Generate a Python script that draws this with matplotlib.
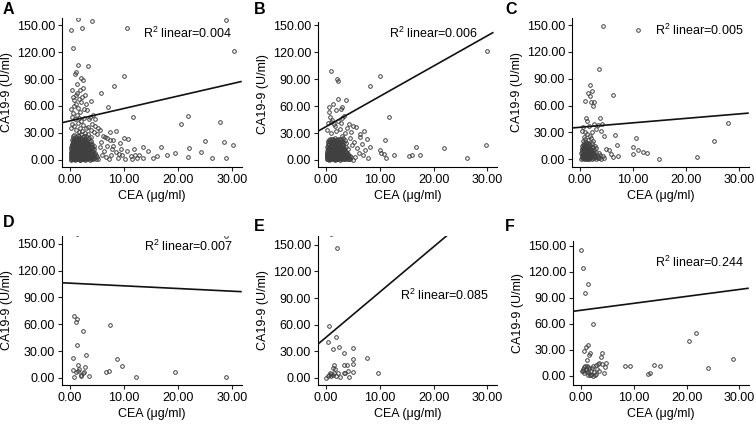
import matplotlib
matplotlib.use('Agg')
import matplotlib.pyplot as plt

plt.rcParams['font.family'] = ['Liberation Sans', 'DejaVu Sans']
plt.rcParams['mathtext.default'] = 'regular'

# ---- data: (CEA, CA19-9) pairs per panel ----
a_points = [
    # high outliers
    (0.1, 145), (1.4, 157), (2.2, 147), (4.0, 154), (0.6, 124), (10.5, 147), (28.8, 156), (30.3, 121.5),
    (1.5, 106), (1.1, 98), (0.9, 96), (3.4, 104), (2.3, 89), (2.0, 91), (8.2, 82), (10.0, 93),
    (5.7, 74), (7.0, 59), (11.7, 47.5), (21.8, 49), (20.5, 40), (27.8, 42),
    # halo around the cluster
    (0.5, 70), (0.8, 67), (1.0, 72), (1.3, 75), (1.6, 68), (1.8, 78), (2.0, 64), (2.2, 70), (0.7, 60),
    (1.1, 62), (1.5, 58), (2.5, 57), (3.0, 62), (3.2, 55), (3.8, 66), (4.2, 50), (0.3, 48), (0.6, 52),
    (0.9, 45), (1.2, 50), (1.7, 47), (2.1, 43), (2.6, 47), (3.5, 45), (4.0, 40), (4.6, 38), (5.1, 36),
    (5.5, 33), (0.4, 40), (0.8, 38), (1.4, 41), (1.9, 36), (2.4, 39), (2.9, 35), (3.3, 37), (3.9, 33),
    (0.2, 35), (1.0, 33), (1.6, 31), (2.2, 32), (2.7, 30), (4.4, 31), (4.9, 29), (6.0, 27), (6.5, 25),
    (7.3, 22), (5.8, 20), (6.8, 16), (7.8, 12), (8.5, 9), (9.1, 7), (7.5, 5), (6.2, 10), (5.5, 14),
    (8.0, 15), (9.5, 12), (10.5, 10), (11.2, 4), (12.0, 6), (12.8, 5), (13.5, 2), (10.2, 1), (11.5, 1),
    (8.8, 2), (9.6, 5), (6.6, 3), (7.2, 1), (5.9, 6), (1.2, 85), (2.4, 80), (0.4, 78), (2.8, 72),
    (3.6, 48), (4.6, 45), (0.2, 57), (1.9, 53),
    # mid-range CEA
    (13.5, 14), (14.5, 10), (15.3, 2), (16.1, 4), (16.8, 14), (17.9, 6), (19.4, 8), (22.0, 13),
    (21.8, 3), (24.2, 9), (24.9, 21), (26.3, 2), (28.5, 20), (30.1, 17), (28.8, 2.5), (11.8, 12),
    (12.4, 2.5), (10.0, 24), (10.8, 23), (7.4, 31.5), (8.5, 32.6), (6.8, 24), (8.0, 22), (9.3, 18.5),
    # dense cluster
    (0.1, 0.5), (0.3, 1.5), (0.5, 0.8), (0.7, 1.9), (0.9, 0.3), (1.1, 1.2), (1.3, 0.6), (1.5, 1.8),
    (1.7, 0.9), (1.9, 0.2), (2.1, 1.4), (2.3, 0.7), (2.5, 1.6), (2.8, 0.4), (3.0, 1.1), (3.3, 1.7),
    (3.6, 0.5), (3.9, 1.3), (4.3, 0.8), (4.7, 1.5), (5.1, 0.6),
    (0.2, 2.8), (0.4, 3.6), (0.6, 2.3), (0.8, 3.2), (1.0, 2.6), (1.2, 3.9), (1.4, 2.2), (1.6, 3.4),
    (1.8, 2.7), (2.0, 3.8), (2.2, 2.4), (2.4, 3.1), (2.7, 2.9), (2.9, 3.7), (3.2, 2.5), (3.5, 3.3),
    (3.8, 2.1), (4.1, 3.5), (4.5, 2.6), (4.9, 3.2),
    (0.1, 5.1), (0.3, 4.4), (0.5, 6.2), (0.7, 4.8), (0.9, 5.7), (1.1, 4.2), (1.3, 6.6), (1.5, 5.0),
    (1.7, 4.5), (1.9, 6.1), (2.1, 5.3), (2.3, 4.6), (2.5, 6.8), (2.8, 5.5), (3.1, 4.3), (3.4, 6.0),
    (3.7, 5.2), (4.0, 4.7), (4.4, 6.3), (4.8, 5.4),
    (0.2, 7.8), (0.4, 9.1), (0.6, 7.3), (0.8, 8.6), (1.0, 9.6), (1.2, 7.5), (1.4, 8.8), (1.6, 7.1),
    (1.8, 9.3), (2.0, 8.0), (2.2, 9.8), (2.4, 7.6), (2.6, 8.9), (2.9, 7.2), (3.2, 9.4), (3.5, 8.2),
    (3.8, 7.4), (4.2, 9.0), (4.6, 8.1),
    (0.3, 10.5), (0.5, 12.2), (0.7, 11.0), (0.9, 12.8), (1.1, 10.3), (1.3, 11.7), (1.5, 12.5),
    (1.7, 10.8), (1.9, 11.9), (2.1, 10.1), (2.3, 12.6), (2.5, 11.3), (2.8, 10.6), (3.1, 12.1),
    (3.4, 11.0), (3.8, 12.9), (4.1, 10.4), (4.5, 11.8),
    (0.2, 14.0), (0.4, 15.8), (0.6, 13.5), (0.8, 16.4), (1.0, 14.7), (1.2, 13.2), (1.4, 15.5),
    (1.6, 16.8), (1.8, 14.2), (2.0, 15.1), (2.2, 13.6), (2.4, 16.2), (2.7, 14.5), (3.0, 15.9),
    (3.3, 13.8), (3.7, 16.6), (4.0, 14.9), (4.4, 15.6),
    (0.3, 18.2), (0.5, 19.7), (0.7, 17.4), (0.9, 20.5), (1.1, 18.9), (1.3, 17.8), (1.5, 20.1),
    (1.7, 18.5), (1.9, 19.4), (2.1, 17.2), (2.3, 20.8), (2.6, 18.6), (2.9, 19.9), (3.2, 17.6),
    (3.6, 20.3), (4.0, 18.1),
    (0.4, 22.3), (0.6, 24.1), (0.8, 21.6), (1.0, 23.5), (1.2, 22.0), (1.4, 24.7), (1.6, 21.3),
    (1.8, 23.2), (2.0, 24.4), (2.2, 22.6), (2.5, 21.8), (2.8, 23.9), (3.1, 22.4), (3.5, 24.6), (3.9, 21.5),
    (0.5, 26.5), (0.8, 28.0), (1.1, 25.7), (1.4, 27.3), (1.7, 26.1), (2.0, 28.4), (2.3, 25.4),
    (2.6, 27.0), (3.0, 26.2), (3.4, 28.6), (3.8, 25.9),
    # more of the cluster core
    (0.15, 1.0), (0.35, 2.2), (0.55, 3.0), (0.75, 0.6), (0.95, 2.0), (1.15, 3.3), (1.35, 1.4),
    (1.55, 2.6), (1.75, 0.4), (1.95, 2.3), (2.15, 3.2), (2.35, 1.1), (2.6, 2.1), (2.85, 3.4),
    (3.1, 1.9), (3.4, 0.9), (3.7, 2.8), (4.0, 1.9), (4.4, 3.9),
    (0.25, 4.0), (0.45, 5.4), (0.65, 6.9), (0.85, 4.5), (1.05, 5.9), (1.25, 7.0), (1.45, 4.0),
    (1.65, 5.7), (1.85, 7.3), (2.05, 4.2), (2.25, 6.0), (2.45, 7.4), (2.7, 4.4), (2.95, 6.3),
    (3.25, 4.9), (3.55, 7.1), (3.9, 5.8), (4.2, 4.1),
    (0.15, 8.5), (0.35, 10.0), (0.55, 8.0), (0.75, 9.8), (0.95, 8.2), (1.15, 10.0), (1.35, 8.4),
    (1.55, 9.9), (1.75, 8.1), (1.95, 10.2), (2.15, 8.7), (2.35, 10.4), (2.65, 8.1), (2.95, 9.9),
    (3.3, 8.5), (3.65, 10.2), (4.0, 8.3),
    (0.2, 12.0), (0.4, 11.2), (0.6, 12.9), (0.8, 11.5), (1.0, 13.0), (1.2, 11.1), (1.4, 12.9),
    (1.6, 11.3), (1.8, 13.1), (2.0, 11.4), (2.2, 12.1), (2.4, 13.2), (2.7, 11.9), (3.0, 13.3),
    (3.3, 12.3), (3.6, 11.5), (4.3, 13.0),
    (0.3, 15.1), (0.5, 14.4), (0.7, 16.0), (0.9, 14.0), (1.1, 16.1), (1.3, 14.3), (1.5, 16.4),
    (1.7, 14.9), (1.9, 16.5), (2.1, 14.4), (2.3, 15.3), (2.6, 16.9), (2.9, 14.6), (3.2, 15.4),
    (3.5, 17.0), (3.9, 14.1),
    (0.4, 17.1), (0.6, 18.9), (0.8, 17.9), (1.0, 19.6), (1.2, 17.0), (1.4, 18.6), (1.6, 20.0),
    (1.8, 17.7), (2.0, 19.0), (2.2, 17.9), (2.45, 19.5), (2.75, 17.3), (3.05, 18.8), (3.4, 19.1),
    (3.8, 17.4),
    (0.5, 21.1), (0.7, 22.9), (0.9, 21.9), (1.1, 22.7), (1.3, 21.0), (1.5, 23.1), (1.7, 22.1),
    (1.9, 21.3), (2.1, 23.5), (2.35, 21.2), (2.65, 22.3), (3.0, 21.0), (3.35, 23.3),
]

b_points = [
    (0.9, 99), (2.0, 89.6), (2.2, 87.8), (10.0, 93), (8.2, 82), (30.0, 121.5), (2.2, 68), (3.8, 66.7),
    (0.5, 59), (1.3, 62), (2.8, 57), (3.0, 59), (1.8, 55.5), (11.7, 48), (0.6, 53.7), (0.75, 47.4),
    (0.9, 42.6), (1.4, 40), (2.2, 43.7), (3.3, 49), (4.3, 40), (5.0, 37.8), (5.5, 37), (4.7, 31.5),
    (6.3, 29), (7.1, 32.6), (6.3, 26), (7.7, 23), (8.2, 14.8), (7.2, 11), (6.9, 5.5), (7.8, 2),
    (11.0, 22), (10.0, 11), (10.2, 8), (10.8, 6.7), (11.2, 2), (12.6, 5.5), (15.4, 4.4), (16.0, 5.5),
    (16.8, 14.8), (17.4, 5.5), (22.0, 13), (26.3, 2), (29.8, 16.7), (2.5, 35), (3.5, 30), (1.0, 30),
    (1.6, 38), (0.3, 41), (2.7, 41), (3.9, 36), (4.4, 25), (5.2, 20), (5.8, 13), (6.1, 8), (5.4, 3),
    (4.9, 17), (6.6, 18), (3.0, 47), (1.1, 45), (0.2, 33), (1.9, 32), (2.9, 27),
    # dense cluster
    (0.1, 0.8), (0.4, 1.9), (0.6, 0.4), (0.8, 1.3), (1.0, 0.6), (1.2, 1.7), (1.4, 0.9), (1.6, 0.3),
    (1.8, 1.5), (2.0, 0.7), (2.3, 1.2), (2.6, 0.5), (2.9, 1.8), (3.2, 0.9), (3.6, 1.4), (4.0, 0.6),
    (4.5, 1.1), (5.0, 0.4),
    (0.2, 3.3), (0.5, 2.5), (0.7, 3.9), (0.9, 2.8), (1.1, 3.5), (1.3, 2.2), (1.5, 3.8), (1.7, 2.6),
    (1.9, 3.1), (2.1, 2.3), (2.4, 3.6), (2.7, 2.7), (3.0, 3.2), (3.4, 2.4), (3.8, 3.7), (4.2, 2.9),
    (4.7, 3.4),
    (0.1, 5.6), (0.3, 4.6), (0.6, 6.1), (0.8, 4.9), (1.0, 6.5), (1.2, 5.2), (1.4, 4.4), (1.6, 6.3),
    (1.8, 5.0), (2.0, 6.7), (2.2, 4.5), (2.5, 5.8), (2.8, 4.8), (3.1, 6.4), (3.5, 5.1), (3.9, 6.0),
    (4.4, 4.7),
    (0.2, 8.2), (0.4, 7.3), (0.7, 9.4), (0.9, 7.7), (1.1, 8.9), (1.3, 7.1), (1.5, 9.6), (1.7, 8.0),
    (1.9, 7.4), (2.1, 9.1), (2.4, 8.3), (2.7, 7.5), (3.0, 9.3), (3.3, 7.8), (3.7, 8.7), (4.1, 7.2),
    (0.3, 11.4), (0.5, 10.2), (0.7, 12.3), (0.9, 10.9), (1.1, 12.8), (1.3, 10.5), (1.5, 11.6),
    (1.7, 12.5), (1.9, 10.3), (2.2, 11.9), (2.5, 10.7), (2.8, 12.4), (3.2, 11.1), (3.6, 10.4), (4.0, 12.0),
    (0.2, 14.5), (0.5, 13.4), (0.7, 15.9), (0.9, 14.1), (1.2, 16.3), (1.4, 13.7), (1.6, 15.2),
    (1.8, 16.6), (2.0, 13.9), (2.3, 15.5), (2.6, 14.3), (2.9, 16.1), (3.3, 13.6), (3.7, 15.0),
    (0.4, 18.6), (0.6, 17.5), (0.8, 19.8), (1.0, 18.0), (1.3, 20.4), (1.5, 17.3), (1.7, 19.1),
    (2.0, 20.7), (2.2, 18.3), (2.5, 19.5), (2.9, 17.8), (3.3, 20.2), (3.8, 18.8),
    (0.5, 22.6), (0.8, 21.4), (1.1, 23.8), (1.4, 22.1), (1.7, 24.3), (2.0, 21.7), (2.3, 23.4),
    (2.7, 22.8), (3.1, 24.6), (3.6, 21.9),
    # more of the cluster core
    (0.25, 1.3), (0.5, 1.0), (0.7, 2.4), (0.9, 1.7), (1.1, 2.9), (1.3, 0.8), (1.5, 2.2), (1.7, 1.1),
    (1.9, 2.7), (2.2, 1.6), (2.5, 2.9), (2.8, 1.0), (3.1, 2.1), (3.5, 0.7), (3.9, 2.5), (4.3, 1.4),
    (0.15, 4.2), (0.4, 5.0), (0.65, 4.0), (0.85, 5.7), (1.05, 4.3), (1.25, 6.4), (1.45, 5.0),
    (1.65, 4.1), (1.85, 6.0), (2.05, 4.7), (2.35, 6.2), (2.65, 5.1), (2.95, 4.3), (3.3, 5.9),
    (3.7, 4.5), (4.1, 5.6),
    (0.25, 7.1), (0.5, 8.6), (0.75, 7.0), (0.95, 8.3), (1.15, 9.7), (1.35, 8.0), (1.55, 7.2),
    (1.75, 9.0), (2.0, 7.7), (2.25, 9.5), (2.55, 7.9), (2.85, 8.6), (3.15, 7.3), (3.5, 9.0), (3.9, 8.1),
    (0.2, 10.4), (0.45, 11.8), (0.65, 10.6), (0.85, 12.2), (1.05, 11.0), (1.25, 12.6), (1.45, 10.8),
    (1.65, 12.0), (1.85, 11.3), (2.1, 12.5), (2.4, 11.2), (2.7, 10.5), (3.0, 11.7), (3.4, 12.6),
    (0.3, 13.8), (0.55, 15.0), (0.8, 13.6), (1.0, 15.6), (1.25, 14.1), (1.5, 16.0), (1.7, 13.5),
    (1.95, 15.0), (2.2, 16.1), (2.5, 13.8), (2.8, 15.3), (3.2, 14.5),
    (0.35, 17.0), (0.6, 18.3), (0.9, 17.2), (1.15, 19.2), (1.4, 18.1), (1.65, 17.0), (1.9, 19.6),
    (2.15, 17.6), (2.4, 18.7), (2.75, 19.9), (3.1, 17.2),
    (0.45, 21.0), (0.7, 23.0), (0.95, 20.5), (1.25, 23.0), (1.55, 21.2), (1.85, 22.6), (2.15, 20.9),
    (2.5, 23.6), (2.9, 21.4),
]

c_points = [
    (4.3, 149), (11.0, 145), (3.6, 100.7), (1.85, 83.5), (1.5, 74.5), (2.2, 76), (1.9, 71), (6.2, 72),
    (1.0, 64.7), (2.7, 64.4), (2.0, 64.4), (2.5, 60), (1.1, 45.7), (1.3, 42.8), (3.8, 46.4),
    (27.9, 41), (25.2, 20.5), (22.0, 2.5), (14.9, 0.7), (10.5, 24), (10.0, 13.3), (11.0, 10.8),
    (11.9, 8), (12.6, 6.8), (10.0, 5.4), (6.6, 27.7), (7.0, 15.8), (5.4, 10.4), (5.9, 6), (6.2, 2.5),
    (7.1, 3.6), (4.9, 11.5), (4.5, 26), (3.9, 32), (3.0, 34), (2.6, 39), (0.6, 36), (0.3, 32),
    (1.7, 37), (0.9, 30), (2.2, 31), (3.4, 38), (4.1, 40), (1.4, 28),
    # cluster
    (0.2, 0.8), (0.5, 1.6), (0.7, 0.4), (0.9, 2.1), (1.1, 0.9), (1.3, 1.8), (1.6, 0.5), (1.9, 1.4),
    (2.2, 0.7), (2.6, 1.9), (3.0, 0.6), (3.5, 1.5), (4.0, 0.9), (4.6, 1.2),
    (0.3, 4.2), (0.6, 3.1), (0.8, 5.3), (1.0, 3.8), (1.2, 5.9), (1.5, 3.4), (1.8, 4.8), (2.1, 3.6),
    (2.4, 5.5), (2.8, 4.1), (3.3, 3.2), (3.8, 5.0), (4.4, 3.9),
    (0.2, 7.5), (0.5, 6.4), (0.7, 8.6), (0.9, 7.1), (1.2, 9.0), (1.4, 6.8), (1.7, 8.2), (2.0, 7.4),
    (2.3, 9.3), (2.7, 6.6), (3.1, 8.0), (3.6, 7.2),
    (0.3, 10.8), (0.6, 12.5), (0.8, 11.2), (1.1, 13.1), (1.3, 10.4), (1.6, 12.0), (1.9, 11.0),
    (2.2, 13.4), (2.6, 10.6), (3.0, 12.2),
    (0.4, 14.8), (0.7, 16.5), (1.0, 15.1), (1.3, 17.2), (1.6, 14.6), (1.9, 16.0), (2.3, 18.1), (2.8, 15.4),
    (0.5, 20.3), (0.9, 22.4), (1.2, 19.6), (1.6, 21.5), (2.0, 23.6), (2.4, 20.8), (0.7, 25.5), (1.8, 26.3),
    (0.4, 1.2), (0.65, 2.6), (0.85, 1.0), (1.05, 2.9), (1.25, 1.1), (1.5, 2.4), (1.75, 0.8),
    (2.05, 2.6), (2.4, 1.2), (2.8, 2.8), (3.3, 1.3),
    (0.45, 5.0), (0.7, 4.2), (0.9, 6.3), (1.15, 4.7), (1.35, 6.0), (1.6, 4.5), (1.95, 6.2),
    (2.25, 4.4), (2.6, 6.0),
    (0.35, 8.5), (0.6, 9.8), (0.8, 8.0), (1.05, 9.6), (1.3, 8.2), (1.55, 9.7), (1.85, 8.9),
    (2.15, 10.0), (2.5, 8.4),
    (0.45, 12.0), (0.7, 13.5), (0.95, 11.8), (1.2, 14.0), (1.45, 12.3), (1.75, 13.6), (2.05, 12.0),
    (2.4, 14.2), (0.55, 16.5), (0.85, 18.0), (1.15, 16.0), (1.45, 18.5), (1.75, 16.8),
]

d_points = [
    (1.3, 160.8), (28.8, 158.5), (0.7, 69), (1.2, 66), (1.0, 62), (2.4, 52), (7.3, 59), (1.3, 37),
    (0.6, 22), (2.9, 26), (1.5, 14), (0.6, 9), (1.0, 6), (1.4, 8), (2.1, 3), (2.3, 5), (2.5, 6),
    (2.8, 12), (3.5, 2), (0.7, 1), (1.7, 10), (6.6, 7), (7.2, 8), (8.6, 21), (9.6, 13), (12.2, 1),
    (19.4, 7), (28.8, 1.5), (2.0, 2.5),
]

e_points = [
    (1.0, 162.0), (2.0, 146), (0.6, 59), (0.4, 41), (1.9, 46), (1.3, 33), (2.4, 35), (3.3, 28),
    (5.1, 34), (5.1, 21), (7.6, 22), (5.1, 16), (1.4, 14), (1.2, 11), (1.7, 10), (3.3, 15), (3.9, 15),
    (3.4, 5), (3.6, 5), (4.1, 8), (4.2, 1), (5.1, 7), (9.6, 5), (0.0, 0), (0.4, 2), (0.6, 3), (0.8, 6),
    (1.0, 2), (1.5, 5), (2.2, 5), (2.6, 1), (1.2, 3), (0.9, 4), (1.8, 2),
]

f_points = [
    (0.0, 145), (0.4, 124), (1.4, 106), (0.8, 96), (2.2, 60), (1.3, 36), (0.9, 33), (0.6, 29),
    (1.8, 26), (1.5, 24), (4.0, 27), (3.8, 22), (3.9, 14), (3.5, 15), (3.2, 14), (2.8, 13), (4.8, 15),
    (4.5, 10), (4.4, 4), (3.5, 6), (0.2, 6), (0.4, 6), (0.6, 10), (0.8, 11), (1.0, 8), (1.2, 12),
    (1.4, 10), (1.6, 9), (1.1, 5), (1.3, 1), (1.7, 1), (2.0, 1), (2.3, 0.5), (2.6, 1.5), (2.9, 2),
    (1.9, 6), (2.1, 9), (0.5, 4), (0.9, 7), (1.2, 18), (2.5, 5), (8.4, 12), (9.2, 11), (12.6, 2),
    (13.0, 4), (13.8, 13), (14.9, 11), (20.5, 40), (21.8, 49), (24.1, 9), (28.7, 19), (0.3, 8),
    (1.5, 3), (2.2, 12), (3.0, 8),
]

panel_letters = ['A', 'B', 'C', 'D', 'E', 'F']
panel_points = [a_points, b_points, c_points, d_points, e_points, f_points]
r2_labels = ['0.004', '0.006', '0.005', '0.007', '0.085', '0.244']
# fit lines: intercept, slope, last x drawn
fit_intercepts = [43.5, 37.1, 35.8, 106.0, 45.8, 75.7]
fit_slopes = [1.38, 3.37, 0.50, -0.30, 5.1, 0.80]
fit_x_end = [31.6, 31.0, 31.6, 31.6, 31.6, 31.6]

x_ticks = [0, 10, 20, 30]
y_ticks = [0, 30, 60, 90, 120, 150]

# layout (pixel boxes: left, top, right, bottom) and label spots
W, H = 756, 424
boxes = [(62, 18, 242, 167), (318, 22, 497, 167), (572, 18, 749, 167),
         (62, 236, 242, 385), (318, 236, 497, 385), (573, 241, 749, 385)]
ylims = [(-7.8, 157.8), (-7.8, 153.5), (-8.6, 158.0), (-8.0, 158.8), (-8.0, 160.0), (-10.4, 155.5)]
r2_pos = [(0.945, 0.90), (0.89, 0.92), (0.97, 0.92), (0.945, 0.93), (0.95, 0.60), (0.97, 0.85)]
letter_pos = [(3, 9), (254, 9), (505, 10), (3, 222), (254, 226), (505, 226)]

fig = plt.figure(figsize=(W / 100, H / 100), dpi=100)

for i in range(6):
    l, t, r, b = boxes[i]
    ax = fig.add_axes([l / W, 1 - b / H, (r - l) / W, (b - t) / H])
    xs = [p[0] for p in panel_points[i]]
    ys = [p[1] for p in panel_points[i]]
    ax.plot(xs, ys, 'o', ms=2.6, mfc='none', mec='#404040', mew=0.7, zorder=2)

    x0, x1 = -1.5, fit_x_end[i]
    ax.plot([x0, x1], [fit_intercepts[i] + fit_slopes[i] * x0, fit_intercepts[i] + fit_slopes[i] * x1],
            color='#111111', lw=1.2, zorder=3)

    ax.set_xlim(-1.5, 31.8)
    ax.set_ylim(*ylims[i])
    ax.set_xticks(x_ticks)
    ax.set_yticks(y_ticks)
    ax.set_xticklabels(['%.2f' % v for v in x_ticks])
    ax.set_yticklabels(['%.2f' % v for v in y_ticks])
    ax.tick_params(labelsize=9, length=3, width=0.8, color='#222222', pad=2)
    for side in ['top', 'right']:
        ax.spines[side].set_visible(False)
    for side in ['left', 'bottom']:
        ax.spines[side].set_linewidth(0.8)
    ax.set_xlabel('CEA (μg/ml)', fontsize=9, labelpad=3)
    ax.set_ylabel('CA19-9 (U/ml)', fontsize=9, labelpad=3)
    ax.text(r2_pos[i][0], r2_pos[i][1], 'R$^2$ linear=' + r2_labels[i], transform=ax.transAxes,
            ha='right', va='center', fontsize=9)
    fig.text(letter_pos[i][0] / W, 1 - letter_pos[i][1] / H, panel_letters[i],
             fontsize=11.5, fontweight='bold', ha='left', va='center')

fig.savefig('out.png', dpi=100)
